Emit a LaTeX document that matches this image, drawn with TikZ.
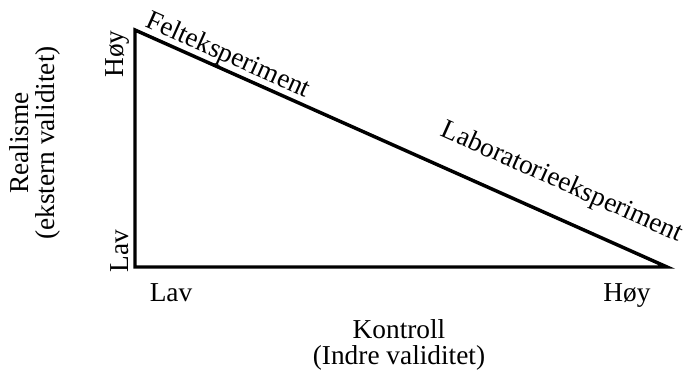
\documentclass[tikz,border=0pt]{standalone}
\usepackage{fontspec}
\setmainfont{Liberation Serif}
\usetikzlibrary{positioning}

\begin{document}
\begin{tikzpicture}[x=0.75pt,y=-0.75pt,font=\fontsize{20.5}{19}\selectfont,
  lbl/.style={inner sep=0pt}]
  \useasboundingbox (0,0) rectangle (691,375);
  \coordinate (tl) at (135,30);
  \coordinate (bl) at (135,267);
  \coordinate (br) at (667,267);
  \draw[line width=2.6pt,line join=miter] (tl) -- (bl) -- (br) -- cycle;
  \path (tl) -- (br)
    node[lbl,pos=0.164,sloped,above=1pt] (felt) {Felteksperiment}
    node[lbl,pos=0.776,sloped,above=16pt] (lab) {Laboratorieeksperiment};
  \node[lbl,rotate=90] (yhoy) at (117,54) {Høy};
  \node[lbl,rotate=90] (ylav) at (120,251) {Lav};
  \node[lbl,anchor=base] (xlav) at (171,301) {Lav};
  \node[lbl,anchor=base] (xhoy) at (627,301) {Høy};
  \node[lbl,align=center] (xname) at (399,345) {Kontroll\\(Indre validitet)};
  \node[lbl,rotate=90,align=center] (yname) at (35,143) {Realisme\\(ekstern validitet)};
\end{tikzpicture}
\end{document}
